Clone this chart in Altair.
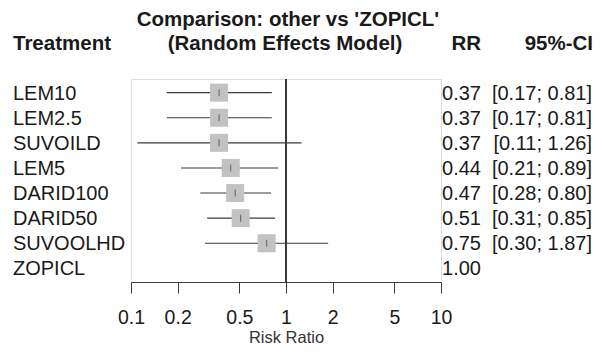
import altair as alt
import pandas as pd

# ---- data ----
treatments = ["LEM10", "LEM2.5", "SUVOILD", "LEM5", "DARID100", "DARID50", "SUVOOLHD", "ZOPICL"]
rr = [0.37, 0.37, 0.37, 0.44, 0.47, 0.51, 0.75, 1.00]
lower = [0.17, 0.17, 0.11, 0.21, 0.28, 0.31, 0.30, None]
upper = [0.81, 0.81, 1.26, 0.89, 0.80, 0.85, 1.87, None]
rr_text = ["0.37", "0.37", "0.37", "0.44", "0.47", "0.51", "0.75", "1.00"]
ci_text = ["[0.17; 0.81]", "[0.17; 0.81]", "[0.11; 1.26]", "[0.21; 0.89]",
           "[0.28; 0.80]", "[0.31; 0.85]", "[0.30; 1.87]", ""]
tick_values = [0.1, 0.2, 0.5, 1, 2, 5, 10]

title_line1 = "Comparison: other vs 'ZOPICL'"
title_line2 = "(Random Effects Model)"
head_treat = "Treatment"
head_rr = "RR"
head_ci = "95%-CI"
x_title = "Risk Ratio"

df = pd.DataFrame({"treatment": treatments, "rr": rr, "lower": lower, "upper": upper,
                   "rr_text": rr_text, "ci_text": ci_text})
df_ci = df.dropna(subset=["lower"])

FONT = "Liberation Sans"
TXT = "#1a1a1a"
LINE = "#3a3a3a"

W, H = 310, 203

yenc = alt.Y("treatment:N", sort=treatments, axis=None,
             scale=alt.Scale(type="point", padding=0.544))
xscale = alt.Scale(type="log", domain=[0.1, 10], nice=False)

base = alt.Chart(df)

squares = alt.Chart(df_ci).mark_square(size=324, color="#c2c2c2", opacity=1).encode(
    x=alt.X("rr:Q", scale=xscale,
            axis=alt.Axis(values=tick_values, title=x_title,
                          labelExpr="datum.value >= 1 ? format(datum.value, 'd') : format(datum.value, '.1f')",
                          tickSize=11, labelPadding=15, labelFontSize=19.5, labelFont=FONT,
                          labelColor=TXT, tickColor=LINE, domainColor=LINE, grid=False,
                          labelFlush=False, labelOverlap=False,
                          titleFont=FONT, titleFontSize=16.5, titleFontWeight="normal",
                          titleColor="#333333", titleBaseline="alphabetic",
                          titleY=60, titleX=155, titleAlign="center")),
    y=yenc,
)

ci_lines = alt.Chart(df_ci).mark_rule(color=LINE, strokeWidth=1.1).encode(
    x=alt.X("lower:Q", scale=xscale), x2="upper:Q", y=yenc)

est_ticks = alt.Chart(df_ci).mark_tick(color=LINE, thickness=1, size=7).encode(
    x=alt.X("rr:Q", scale=xscale), y=yenc)

ref_line = alt.Chart(df).mark_rule(color=LINE, strokeWidth=1.2).encode(
    x=alt.datum(1, scale=xscale))

labels = base.mark_text(align="left", baseline="middle", dy=1, font=FONT, fontSize=20,
                        color=TXT).encode(x=alt.value(-118), y=yenc, text="treatment:N")
rr_col = base.mark_text(align="right", baseline="middle", dy=1, font=FONT, fontSize=20,
                        color=TXT).encode(x=alt.value(350), y=yenc, text="rr_text:N")
ci_col = base.mark_text(align="right", baseline="middle", dy=1, font=FONT, fontSize=20,
                        color=TXT).encode(x=alt.value(461), y=yenc, text="ci_text:N")

one = pd.DataFrame({"k": [0]})


def header(text, x, y, align):
    return alt.Chart(one).mark_text(text=text, align=align, baseline="middle", font=FONT,
                                    fontSize=20.5, fontWeight="bold", color=TXT).encode(
        x=alt.value(x), y=alt.value(y))


headers = (header(title_line1, 157, -59, "center")
           + header(title_line2, 154, -35, "center")
           + header(head_treat, -118, -35, "left")
           + header(head_rr, 350, -35, "right")
           + header(head_ci, 462, -35, "right"))

chart = alt.layer(ref_line, ci_lines, squares, est_ticks, labels, rr_col, ci_col, headers).properties(
    width=W, height=H, autosize="none",
    padding={"left": 123, "top": 71, "right": 153, "bottom": 64},
).configure_view(stroke=None).configure(background="white")

chart.save("out.html", embed_options={"renderer": "svg", "actions": False})
